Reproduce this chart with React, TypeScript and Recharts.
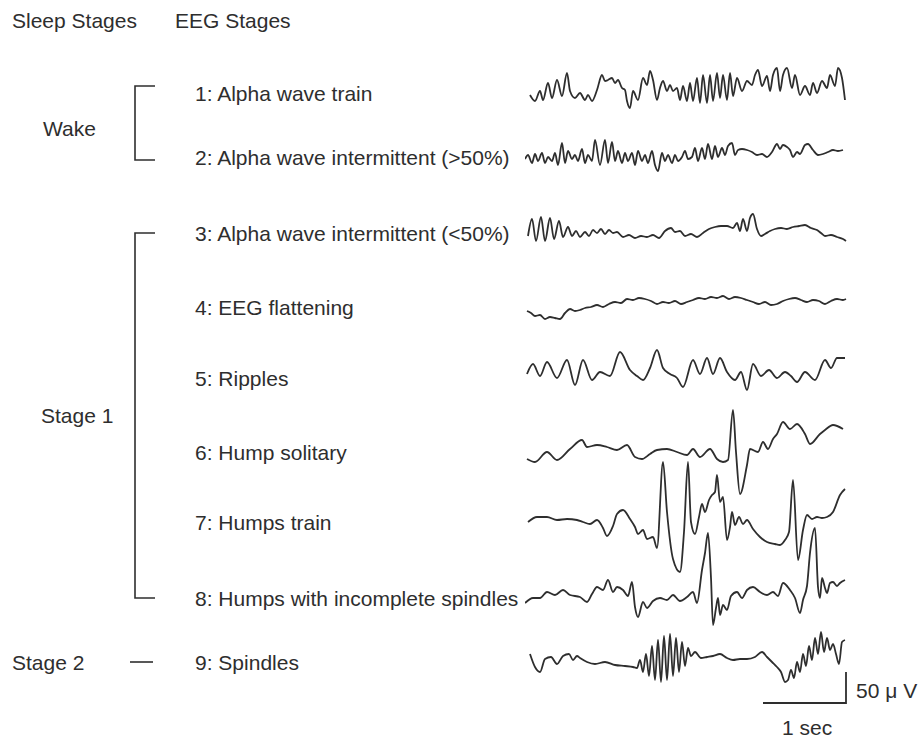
import React from "react";
import { LineChart, Line, XAxis, YAxis } from "recharts";

// each trace: [t, amplitude] with t along the record (83 units = 1 sec), amplitude in the same units (31 = 50 µV)
const alphaTrain: [number, number][] = [
  [5, -2], [10, -8], [15, 2], [18, -7], [23, 10], [27, -5], [32, 13], [37, -3], [42, 20], [45, 2],
  [50, -5], [55, 0], [60, -7], [63, -2], [67, -8], [72, 3], [77, 18], [80, 12], [83, 13], [87, 15],
  [90, 10], [93, 13], [97, 5], [100, 3], [102, -8], [105, -15], [108, 2], [113, -7], [118, 15], [122, 8],
  [125, 22], [128, 13], [132, -7], [135, 5], [138, 12], [142, 2], [145, 8], [148, 2], [152, 5], [155, -7],
  [158, 7], [162, -8], [165, 10], [168, -8], [172, 15], [175, -10], [178, 18], [182, -10], [185, 18], [188, -8],
  [192, 20], [195, -5], [198, 18], [202, -7], [205, 20], [208, -3], [212, 15], [217, 2], [222, 12], [227, 8],
  [230, 18], [233, 23], [237, 7], [242, 17], [245, 2], [248, 18], [252, 25], [255, 2], [258, 18], [262, 25],
  [267, 5], [270, 18], [275, -2], [280, 7], [285, -2], [288, 10], [292, 0], [297, 12], [302, 5], [305, 18],
  [310, 7], [313, 25], [317, 15], [320, -7],
];

const alphaOver50: [number, number][] = [
  [0, -2], [3, 2], [7, -6], [10, 3], [13, -4], [17, 4], [20, -6], [23, 0], [27, -4], [30, 4],
  [33, -8], [37, 14], [40, -6], [43, 6], [47, -2], [50, 2], [53, -4], [57, 8], [60, -6], [63, 2],
  [67, -4], [70, 17], [75, -8], [80, 17], [83, -6], [87, 15], [90, -4], [93, 6], [97, -6], [100, 4],
  [103, -4], [107, 4], [110, -8], [113, 6], [117, -4], [120, 2], [123, -6], [127, 6], [130, -8], [133, -14],
  [137, 4], [140, -4], [143, 2], [147, -6], [150, 2], [153, -4], [157, 0], [160, 6], [163, -2], [167, 0],
  [170, 9], [173, -4], [177, 9], [180, -2], [183, 13], [187, -2], [190, 11], [193, 0], [197, 9], [200, 2],
  [203, 11], [207, 14], [210, 2], [213, 7], [217, 8], [222, 7], [227, 5], [232, 2], [237, 3], [242, 0],
  [247, 5], [252, 13], [255, 8], [258, 12], [262, 10], [265, 7], [268, 0], [272, 5], [275, 3], [280, 12],
  [283, 13], [288, 7], [293, 2], [298, 3], [303, 5], [308, 7], [313, 6], [318, 7],
];

const alphaUnder50: [number, number][] = [
  [3, -3], [7, 14], [11, -8], [16, 16], [20, -8], [25, 15], [29, -6], [34, 12], [38, -4], [43, 6],
  [47, -3], [51, 2], [55, -4], [60, 1], [64, -3], [68, 3], [72, 0], [76, 4], [80, -1], [84, 3],
  [88, 0], [92, 1], [98, -4], [104, -2], [110, -5], [116, -3], [122, -4], [128, -2], [134, -5], [140, 2],
  [146, 5], [150, 1], [155, 2], [160, -3], [166, -1], [172, -4], [178, 0], [184, 4], [190, 6], [196, 7],
  [202, 7], [208, 5], [212, 10], [215, 2], [218, 14], [222, 2], [225, 15], [228, 19], [232, 4], [236, -3],
  [240, -1], [245, 2], [250, 4], [256, 5], [262, 4], [268, 6], [274, 7], [280, 8], [286, 5], [292, 3],
  [296, 0], [300, -3], [306, -2], [312, -4], [318, -6], [321, -8],
];

const flattening: [number, number][] = [
  [2, -4], [6, -6], [10, -9], [15, -8], [20, -12], [25, -10], [30, -11], [35, -12], [40, -6], [45, -2],
  [50, -4], [55, -3], [60, -1], [66, 0], [72, 2], [78, 0], [84, 3], [90, 5], [96, 4], [102, 8],
  [108, 7], [114, 9], [120, 8], [126, 6], [132, 3], [138, 5], [144, 4], [150, 6], [156, 3], [162, 5],
  [168, 7], [174, 9], [180, 8], [186, 10], [192, 9], [198, 11], [204, 8], [210, 10], [216, 9], [222, 7],
  [228, 5], [234, 3], [240, 5], [246, 2], [252, 3], [258, 6], [264, 8], [270, 9], [276, 7], [282, 5],
  [288, 7], [294, 6], [300, 3], [306, 6], [312, 8], [318, 7], [321, 8],
];

const ripples: [number, number][] = [
  [2, 4], [8, 14], [15, 2], [22, 16], [32, 0], [42, 18], [50, -7], [58, 18], [67, -2], [75, 6],
  [85, 2], [95, 26], [105, 8], [112, 2], [118, -2], [125, 10], [132, 28], [138, 10], [145, 4], [152, 0],
  [158, -9], [168, 18], [175, 4], [182, 20], [188, 4], [195, 20], [202, 6], [210, -2], [216, 6], [222, -12],
  [228, 14], [236, 2], [244, 8], [252, 0], [260, 6], [266, 2], [272, -4], [280, 6], [290, -2], [300, 18],
  [306, 10], [312, 20], [320, 20],
];

const humpSolitary: [number, number][] = [
  [2, -7], [10, -10], [22, 0], [32, -8], [45, 3], [57, 12], [62, 5], [72, 7], [82, 5], [92, 2],
  [102, 7], [110, -5], [117, -7], [125, -2], [132, 2], [142, 3], [152, 0], [162, -3], [168, 3], [175, -5],
  [185, 3], [192, -7], [198, -10], [203, -8], [208, 42], [211, 0], [215, -42], [222, -13], [225, 3], [233, 0],
  [238, 10], [243, 3], [248, 13], [252, 18], [258, 30], [265, 23], [272, 28], [280, 18], [285, 8], [295, 18],
  [300, 22], [308, 27], [318, 23],
];

const humpsTrain: [number, number][] = [
  [3, 0], [12, 5], [22, 5], [32, 2], [42, 3], [52, 2], [58, 0], [65, -2], [72, 2], [78, -6],
  [82, -14], [88, -4], [92, 8], [98, 12], [105, 3], [110, -5], [113, -12], [118, -8], [122, -17], [128, -15],
  [132, -26], [138, 60], [142, 10], [148, -37], [155, -50], [159, -10], [163, 60], [166, 0], [170, -12], [174, 5],
  [177, 18], [180, 10], [184, 22], [187, 27], [190, 30], [192, 47], [195, 20], [198, 25], [202, -18], [205, -5],
  [207, 10], [210, -3], [214, 5], [218, -2], [222, 2], [228, -7], [235, -15], [242, -20], [250, -22], [255, -23],
  [260, -18], [264, -10], [268, 42], [273, -38], [278, -8], [282, 7], [287, 3], [292, 5], [297, 4], [302, 5],
  [308, 10], [315, 27], [320, 33],
];

const humpsSpindles: [number, number][] = [
  [0, -5], [8, 0], [15, 0], [22, 6], [30, 3], [38, 8], [45, 3], [55, 1], [62, -4], [67, 4],
  [72, 11], [78, 8], [83, 18], [88, 6], [92, 11], [98, 8], [103, 2], [107, 16], [110, -9], [113, -19],
  [118, -4], [122, -10], [128, -3], [135, 0], [142, -2], [148, 3], [155, -3], [162, 1], [168, 6], [172, -5],
  [177, 28], [180, 45], [183, 65], [186, 20], [188, -27], [191, -10], [193, 0], [195, -17], [198, -7], [202, -12],
  [206, 2], [212, 6], [217, 0], [222, 8], [228, 11], [235, 6], [242, 3], [248, 6], [253, 2], [258, 15],
  [265, 8], [270, 0], [275, -15], [278, -2], [282, 12], [285, 45], [290, 70], [293, 11], [295, 0], [297, 20],
  [300, 10], [302, 5], [305, 15], [308, 16], [312, 12], [315, 15], [320, 18],
];

const spindles: [number, number][] = [
  [5, 8], [10, -5], [15, -10], [20, 3], [26, 5], [32, -2], [38, 6], [44, 8], [48, 2], [52, 6],
  [55, 4], [62, 0], [70, -2], [80, 0], [90, -3], [100, -4], [108, -5], [112, -6], [115, 2], [118, -10],
  [121, 8], [124, -14], [127, 16], [130, -18], [133, 22], [136, -20], [139, 26], [142, -18], [145, 28], [148, -14],
  [151, 24], [154, -10], [157, 20], [160, -4], [163, 14], [166, 6], [170, 10], [176, 4], [182, 5], [188, 6],
  [195, 8], [202, 4], [208, 2], [215, 3], [222, 3], [230, 5], [237, 10], [242, 5], [247, 0], [252, -5],
  [256, -10], [260, -20], [263, -18], [266, -8], [269, -16], [272, 0], [275, -10], [278, 8], [281, -4], [284, 16],
  [287, 2], [290, 24], [293, 8], [296, 30], [299, 10], [302, 24], [305, 12], [308, 18], [311, 8], [314, -2],
  [317, 20], [320, 22],
];

const eegLabels = [
  "1: Alpha wave train",
  "2: Alpha wave intermittent (>50%)",
  "3: Alpha wave intermittent (<50%)",
  "4: EEG flattening",
  "5: Ripples",
  "6: Hump solitary",
  "7: Humps train",
  "8: Humps with incomplete spindles",
  "9: Spindles",
];
const traces = [alphaTrain, alphaOver50, alphaUnder50, flattening, ripples, humpSolitary, humpsTrain, humpsSpindles, spindles];

// layout
const rowY = [93, 157, 233, 307, 378, 452, 522, 598, 662];
const TRACE_X = 525;
const TRACE_W = 324;
const TRACE_H = 170;
const INK = "#2e2e2e";
const FONT = "'Liberation Sans', Arial, Helvetica, sans-serif";
const FS = 21;

const Trace = ({ points, y }: { points: [number, number][]; y: number }) => {
  const rows = points.map(([t, v]) => ({ t, v }));
  return (
    <div style={{ position: "absolute", left: TRACE_X, top: y - TRACE_H / 2 }}>
      <LineChart width={TRACE_W} height={TRACE_H} data={rows} margin={{ top: 0, right: 0, bottom: 0, left: 0 }}>
        <XAxis dataKey="t" type="number" domain={[0, TRACE_W]} hide />
        <YAxis type="number" domain={[-TRACE_H / 2, TRACE_H / 2]} hide />
        <Line type="monotone" dataKey="v" stroke={INK} strokeWidth={1.8} dot={false} isAnimationActive={false} />
      </LineChart>
    </div>
  );
};

const Label = ({ x, y, children }: { x: number; y: number; children: React.ReactNode }) => (
  <text x={x} y={y + 7.5} fontFamily={FONT} fontSize={FS} fill={INK}>
    {children}
  </text>
);

export default function App() {
  return (
    <div style={{ position: "absolute", left: 0, top: 0, width: 920, height: 742, background: "#fff" }}>
      <svg width={920} height={742} style={{ position: "absolute", left: 0, top: 0 }}>
        <Label x={12} y={20}>Sleep Stages</Label>
        <Label x={175} y={20}>EEG Stages</Label>

        <Label x={43} y={128}>Wake</Label>
        <path d="M155 86 H135 V160 H155" fill="none" stroke={INK} strokeWidth={1.6} />

        <Label x={41} y={415}>Stage 1</Label>
        <path d="M155 233 H135 V598 H155" fill="none" stroke={INK} strokeWidth={1.6} />

        <Label x={12} y={rowY[8]}>Stage 2</Label>
        <line x1={130} x2={153} y1={rowY[8]} y2={rowY[8]} stroke={INK} strokeWidth={1.6} />

        {eegLabels.map((l, i) => (
          <Label key={l} x={195} y={rowY[i]}>{l}</Label>
        ))}

        <path d="M763 703 H846 V672" fill="none" stroke={INK} strokeWidth={1.8} />
        <Label x={856} y={690}>50 μ V</Label>
        <Label x={782} y={727}>1 sec</Label>
      </svg>
      {traces.map((p, i) => (
        <Trace key={i} points={p} y={rowY[i]} />
      ))}
    </div>
  );
}
